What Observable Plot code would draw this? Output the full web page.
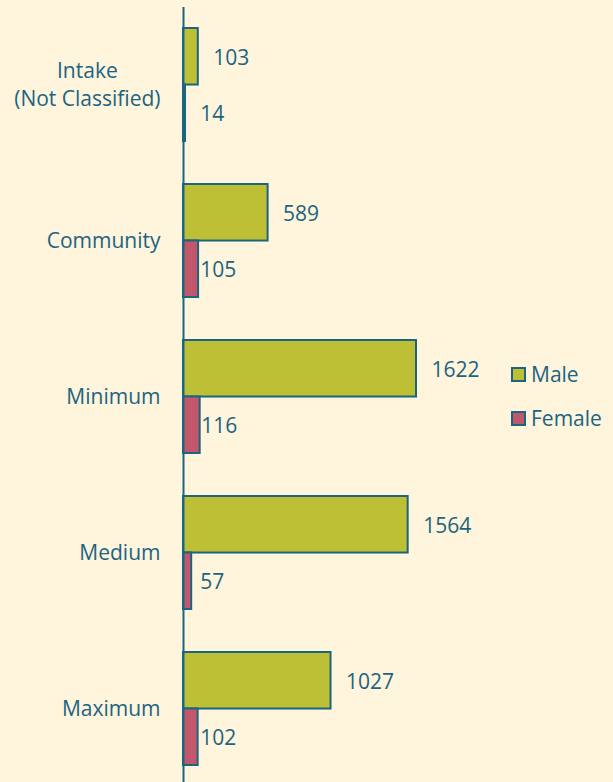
<!DOCTYPE html>
<html>
<head>
<meta charset="utf-8">
<script src="https://cdn.jsdelivr.net/npm/d3@7"></script>
<script src="https://cdn.jsdelivr.net/npm/@observablehq/plot@0.6"></script>
<style>
  html, body { margin: 0; padding: 0; background: #FFF4DC; }
  #wrap { position: relative; width: 613px; height: 782px; overflow: hidden; }
  #legend { position: absolute; left: 511px; top: 352px; font-family: "Open Sans", sans-serif; font-size: 21px; color: #1B6482; }
  .item { display: flex; align-items: center; height: 44px; }
  .sw { width: 11px; height: 11px; border: 2px solid #1A6580; margin-right: 5px; box-sizing: content-box; }
</style>
</head>
<body>
<div id="wrap"><div id="legend"></div></div>
<script>
const categories = ["Intake\n(Not Classified)", "Community", "Minimum", "Medium", "Maximum"];
const male = [103, 589, 1622, 1564, 1027];
const female = [14, 105, 116, 57, 102];
const series = ["Male", "Female"];
const colors = ["#BDC034", "#C2566A"];

const rows = [];
categories.forEach((c, i) => {
  rows.push({cat: c, sex: "Male", value: male[i]});
  rows.push({cat: c, sex: "Female", value: female[i]});
});
const maleRows = rows.filter(d => d.sex === "Male");
const femaleRows = rows.filter(d => d.sex === "Female");

const teal = "#1A6580";
const textColor = "#1B6482";
const bw = 156 * (1 - 0.276);

const chart = Plot.plot({
  width: 613,
  height: 782,
  marginLeft: 183,
  marginTop: 7,
  marginBottom: 0,
  marginRight: 0,
  style: {background: "#FFF4DC", fontFamily: "Open Sans, sans-serif", color: textColor},
  x: {domain: [0, 2000], range: [183, 183 + 0.14365 * 2000], axis: null},
  y: {domain: categories, range: [6.5, 786.5], paddingInner: 0.276, paddingOuter: 0.138, label: null},
  marks: [
    Plot.barX(maleRows, {x: "value", y: "cat", fill: colors[0], stroke: teal, strokeWidth: 2, insetBottom: bw / 2}),
    Plot.barX(femaleRows, {x: "value", y: "cat", fill: colors[1], stroke: teal, strokeWidth: 2, insetTop: bw / 2}),
    Plot.ruleX([0], {stroke: teal, strokeWidth: 2}),
    Plot.text(maleRows, {x: "value", y: "cat", text: d => String(d.value), dy: -bw / 4 + 1.5, dx: 15, textAnchor: "start", fontSize: 21, fill: textColor}),
    Plot.text(femaleRows, {x: d => Math.max(d.value, 110), y: "cat", text: d => String(d.value), dy: bw / 4 + 1, dx: 1, textAnchor: "start", fontSize: 21, fill: textColor}),
    Plot.axisY({tickSize: 0, tickPadding: 23, fontSize: 21, lineHeight: 1.33, dy: -2, fill: textColor, label: null})
  ]
});

document.getElementById("wrap").prepend(chart);

// center multi-line tick labels within their block (as in the original)
chart.querySelectorAll('[aria-label="y-axis tick label"] text').forEach(t => {
  if (t.querySelectorAll("tspan").length > 1) {
    const w = t.getBBox().width;
    t.setAttribute("text-anchor", "middle");
    const tr = t.getAttribute("transform") || "";
    t.setAttribute("transform", tr + ` translate(${-w / 2},0)`);
  }
});

const legend = document.getElementById("legend");
series.forEach((s, i) => {
  const item = document.createElement("div");
  item.className = "item";
  const sw = document.createElement("div");
  sw.className = "sw";
  sw.style.background = colors[i];
  const lab = document.createElement("span");
  lab.textContent = s;
  item.appendChild(sw);
  item.appendChild(lab);
  legend.appendChild(item);
});
</script>
</body>
</html>
